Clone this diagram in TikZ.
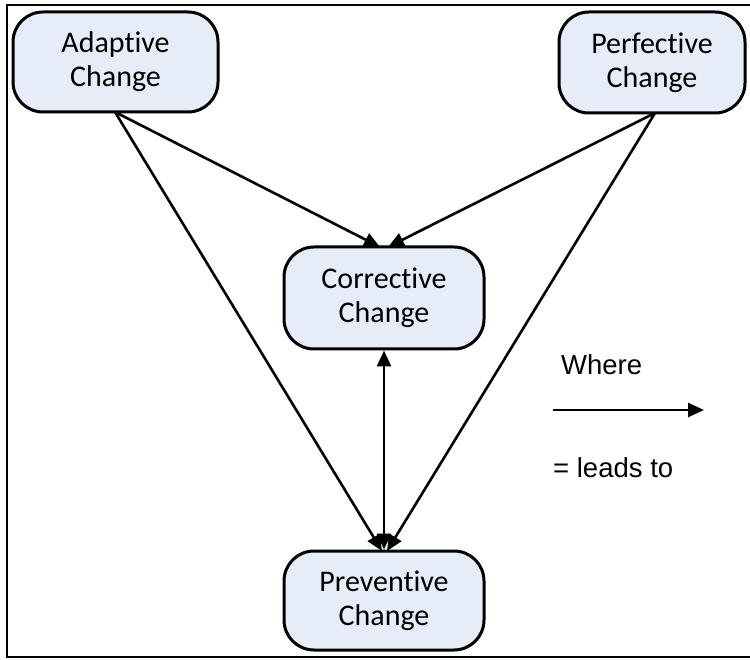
\documentclass[tikz,border=0pt]{standalone}
\usepackage{fontspec}
\setmainfont[Ligatures=NoCommon]{Carlito}
\newfontfamily\legendfont{Liberation Sans}
\usetikzlibrary{arrows.meta}
\definecolor{boxfill}{HTML}{E6ECF8}
\tikzset{
  changebox/.style={draw=black, line width=3pt, fill=boxfill, rounded corners=30pt,
    align=center, font=\fontsize{30}{34}\selectfont, inner sep=0pt},
  leads/.style={line width=2.6pt, -{Triangle[length=16pt,width=14pt]}},
  both/.style={line width=2.6pt, {Triangle[length=16pt,width=14pt]}-{Triangle[length=16pt,width=14pt]}},
}
\begin{document}
\begin{tikzpicture}[x=1pt,y=-1pt]
\useasboundingbox (0,0) rectangle (750,660);
% frame (its right edge lies outside the page)
\draw[line width=2.6pt] (7,5) rectangle (760,657);
% change types
\node[changebox, minimum width=205pt, minimum height=100pt] (adapt) at (115.5,62) {Adaptive\\Change};
\node[changebox, minimum width=186pt, minimum height=101pt] (perf) at (652,62.5) {Perfective\\Change};
\node[changebox, minimum width=200pt, minimum height=102pt] (corr) at (384,298) {Corrective\\Change};
\node[changebox, minimum width=200pt, minimum height=99pt] (prev) at (384,600.5) {Preventive\\Change};
% anchor points on the box borders
\coordinate (aout) at (115,112);
\coordinate (pout) at (655,113);
\coordinate (cinL) at (380,247);
\coordinate (cinR) at (388,247);
\coordinate (vinL) at (382,551);
\coordinate (vinR) at (387,551);
\draw[leads] (aout) -- (cinL);
\draw[leads] (aout) -- (vinL);
\draw[leads] (pout) -- (cinR);
\draw[leads] (pout) -- (vinR);
\draw[both] (corr.south) -- (prev.north);
% legend
\node[font=\legendfont\fontsize{27.5}{33}\selectfont, anchor=base west, inner sep=0pt] (where) at (561,374) {Where};
\coordinate (ls) at (553,410);
\coordinate (le) at (704,410);
\draw[leads] (ls) -- (le);
\node[font=\legendfont\fontsize{27.5}{33}\selectfont, anchor=base west, inner sep=0pt] (means) at (553,477) {= leads to};
\end{tikzpicture}
\end{document}
